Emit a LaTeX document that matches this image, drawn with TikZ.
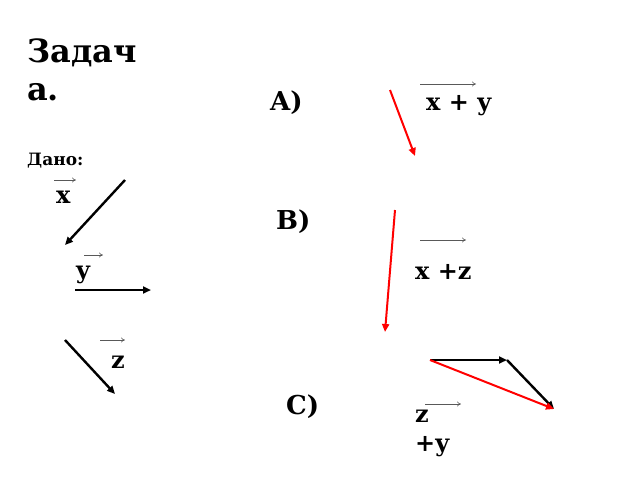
\documentclass[tikz,border=0pt]{standalone}
\usepackage{fontspec}
\setmainfont{DejaVu Serif}
\usetikzlibrary{arrows.meta}
\begin{document}
\begin{tikzpicture}[x=1pt,y=-1pt,
  vec/.style={line width=2.4pt,-{Triangle[length=8pt,width=7pt]}},
  redvec/.style={red,line width=2pt,-{Triangle[length=8pt,width=7pt]}},
  over/.style={gray!70!black,line width=0.6pt,-{To[length=4pt,width=5pt]}},
  lbl/.style={inner sep=0pt,anchor=base west,font=\fontsize{24}{28}\selectfont\bfseries},
  big/.style={inner sep=0pt,anchor=base west,font=\fontsize{26}{30}\selectfont\bfseries}]
\useasboundingbox (0,0) rectangle (640,480);
% title
\node[inner sep=0pt,anchor=base west,font=\fontsize{32}{38}\selectfont\bfseries,align=left] (title) at (27,100) {Задач\\а.};
\node[inner sep=0pt,anchor=base west,font=\fontsize{17}{20}\selectfont\bfseries] (dano) at (27,165) {Дано:};
% given vectors
\node[lbl] (lx) at (56,203) {x};
\coordinate (ox1) at (54,180); \coordinate (ox2) at (76,180);
\draw[over] (ox1) -- (ox2);
\coordinate (x1) at (125,180); \coordinate (x2) at (65,245);
\draw[vec] (x1) -- (x2);
\node[lbl] (ly) at (76,278) {y};
\coordinate (oy1) at (84,255); \coordinate (oy2) at (103,255);
\draw[over] (oy1) -- (oy2);
\coordinate (y1) at (75,290); \coordinate (y2) at (151,290);
\draw[vec] (y1) -- (y2);
\node[lbl] (lz) at (111,368) {z};
\coordinate (oz1) at (100,340); \coordinate (oz2) at (125,340);
\draw[over] (oz1) -- (oz2);
\coordinate (z1) at (65,340); \coordinate (z2) at (115,394);
\draw[vec] (z1) -- (z2);
% A
\node[big] (la) at (270,110) {A)};
\node[lbl] (sa) at (426,110) {x + y};
\coordinate (oa1) at (420,84); \coordinate (oa2) at (476,84);
\draw[over] (oa1) -- (oa2);
\coordinate (a1) at (390,90); \coordinate (a2) at (415,156);
\draw[redvec] (a1) -- (a2);
% B
\node[big] (lb) at (276,229) {B)};
\node[lbl] (sb) at (415,279) {x +z};
\coordinate (ob1) at (420,240); \coordinate (ob2) at (466,240);
\draw[over] (ob1) -- (ob2);
\coordinate (b1) at (395,210); \coordinate (b2) at (385,332);
\draw[redvec] (b1) -- (b2);
% C
\node[big] (lc) at (286,414) {C)};
\node[lbl] (sc1) at (415,422) {z};
\node[lbl] (sc2) at (415,451) {+y};
\coordinate (oc1) at (425,404); \coordinate (oc2) at (461,404);
\draw[over] (oc1) -- (oc2);
\coordinate (c1) at (430,360); \coordinate (c2) at (507,360); \coordinate (c3) at (554,409);
\draw[vec] (c1) -- (c2);
\draw[vec] (c2) -- (c3);
\draw[redvec] (c1) -- (c3);
\end{tikzpicture}
\end{document}
